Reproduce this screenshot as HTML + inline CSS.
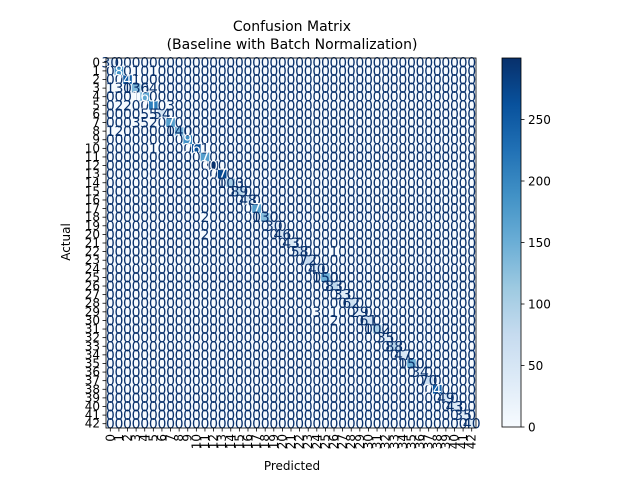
<!DOCTYPE html>
<html><head><meta charset="utf-8"><style>
body{margin:0;background:#fff;}
svg text{font-family:"DejaVu Sans","Liberation Sans",sans-serif;}
</style></head><body>
<svg id="chart" width="640" height="480" viewBox="0 0 640 480">
<rect width="640" height="480" fill="#fff"/>
<text x="292" y="31" font-size="14" text-anchor="middle">Confusion Matrix</text>
<text x="292" y="49" font-size="14" text-anchor="middle">(Baseline with Batch Normalization)</text>
<g id="cells"></g><g id="ticks"></g>
<text x="292" y="470" font-size="12" text-anchor="middle">Predicted</text>
<text x="70" y="242" font-size="12" text-anchor="middle" transform="rotate(-90 70 242)">Actual</text>
<defs><linearGradient id="cbg" x1="0" y1="1" x2="0" y2="0">
<stop offset="0" stop-color="#f7fbff"/><stop offset="0.125" stop-color="#deebf7"/><stop offset="0.25" stop-color="#c6dbef"/><stop offset="0.375" stop-color="#9ecae1"/><stop offset="0.5" stop-color="#6baed6"/><stop offset="0.625" stop-color="#4292c6"/><stop offset="0.75" stop-color="#2171b5"/><stop offset="0.875" stop-color="#08519c"/><stop offset="1" stop-color="#08306b"/></linearGradient></defs>
<g id="cbar"></g>
</svg>
<script>
const classes = Array.from({length:43},(_,i)=>String(i));
const diagonal = [30,183,248,136,161,210,54,171,140,190,265,170,300,270,103,89,48,170,130,30,46,43,58,72,40,150,83,33,62,29,61,102,35,88,47,150,34,70,249,49,43,35,40];
const offRows = [1,1,2,3,3,3,4,5,5,5,6,6,7,7,7,8,8,10,10,18,20,22,29,29,30];
const offCols = [3,5,3,0,1,5,3,1,2,7,4,5,3,4,5,0,1,5,11,11,11,26,24,26,26];
const offVals = [1,1,1,1,3,4,1,2,2,3,5,5,3,5,2,1,2,1,1,2,2,1,3,1,2];
const cbTicks = [0,50,100,150,200,250];
const vmax = 300;
const X0=106,Y0=58,S=370,n=classes.length,cw=S/n;
const stops=["#f7fbff","#deebf7","#c6dbef","#9ecae1","#6baed6","#4292c6","#2171b5","#08519c","#08306b"].map(h=>[1,3,5].map(i=>parseInt(h.substr(i,2),16)));
function cmap(v){let t=Math.max(0,Math.min(1,v/vmax))*8;let i=Math.min(7,Math.floor(t)),f=t-i;const a=stops[i],b=stops[i+1];return `rgb(${a.map((c,k)=>Math.round(c+(b[k]-c)*f)).join(',')})`;}
const xs=i=>X0+i*cw, ys=i=>Y0+i*cw;
const M=classes.map(()=>classes.map(()=>0));
diagonal.forEach((v,i)=>M[i][i]=v);
offRows.forEach((r,k)=>M[r][offCols[k]]=offVals[k]);
const NS="http://www.w3.org/2000/svg";
const cells=document.getElementById('cells');
for(let r=0;r<n;r++)for(let c=0;c<n;c++){
 const v=M[r][c];
 const rc=document.createElementNS(NS,'rect');
 rc.setAttribute('x',xs(c));rc.setAttribute('y',ys(r));rc.setAttribute('width',cw+0.3);rc.setAttribute('height',cw+0.3);rc.setAttribute('fill',cmap(v));
 
 
 cells.appendChild(rc);
}
for(let r=0;r<n;r++)for(let c=0;c<n;c++){
 const v=M[r][c];
 const t=document.createElementNS(NS,'text');
 t.setAttribute('x',xs(c)+cw/2);t.setAttribute('y',ys(r)+cw/2+5);t.setAttribute('font-size','14');t.setAttribute('text-anchor','middle');
 t.setAttribute('fill',v>vmax/2?'#fff':'#08306b');t.textContent=v;
 
 
 cells.appendChild(t);
}
const fr=document.createElementNS(NS,'rect');fr.setAttribute('x',X0);fr.setAttribute('y',Y0);fr.setAttribute('width',S);fr.setAttribute('height',S);fr.setAttribute('fill','none');fr.setAttribute('stroke','#000');fr.setAttribute('stroke-width','0.8');


cells.appendChild(fr);
const tk=document.getElementById('ticks');
classes.forEach((lab,i)=>{
 const cx=xs(i)+cw/2, cy=ys(i)+cw/2;
 let l=document.createElementNS(NS,'line');l.setAttribute('x1',cx);l.setAttribute('x2',cx);l.setAttribute('y1',Y0+S);l.setAttribute('y2',Y0+S+3.5);l.setAttribute('stroke','#000');l.setAttribute('stroke-width','0.8');tk.appendChild(l);
 l=document.createElementNS(NS,'line');l.setAttribute('x1',X0-3.5);l.setAttribute('x2',X0);l.setAttribute('y1',cy);l.setAttribute('y2',cy);l.setAttribute('stroke','#000');l.setAttribute('stroke-width','0.8');tk.appendChild(l);
 let t=document.createElementNS(NS,'text');t.setAttribute('x',cx+4);t.setAttribute('y',Y0+S+6);t.setAttribute('font-size','12');t.setAttribute('text-anchor','end');t.setAttribute('transform',`rotate(-90 ${cx+4} ${Y0+S+6})`);t.textContent=lab;
 
 
 tk.appendChild(t);
 t=document.createElementNS(NS,'text');t.setAttribute('x',X0-6);t.setAttribute('y',cy+4);t.setAttribute('font-size','12');t.setAttribute('text-anchor','end');t.textContent=lab;
 
 
 tk.appendChild(t);
});
const cb=document.getElementById('cbar');
const CX=502,CW=19,CT=58,CB=427;
const cr=document.createElementNS(NS,'rect');cr.setAttribute('x',CX);cr.setAttribute('y',CT);cr.setAttribute('width',CW);cr.setAttribute('height',CB-CT);cr.setAttribute('fill','url(#cbg)');cr.setAttribute('stroke','#000');cr.setAttribute('stroke-width','0.8');


cb.appendChild(cr);
cbTicks.forEach(v=>{
 const y=CB-(v/vmax)*(CB-CT);
 const l=document.createElementNS(NS,'line');l.setAttribute('x1',CX+CW);l.setAttribute('x2',CX+CW+3.5);l.setAttribute('y1',y);l.setAttribute('y2',y);l.setAttribute('stroke','#000');l.setAttribute('stroke-width','0.8');cb.appendChild(l);
 const t=document.createElementNS(NS,'text');t.setAttribute('x',CX+CW+7);t.setAttribute('y',y+4.5);t.setAttribute('font-size','12');t.textContent=v;
 
 
 cb.appendChild(t);
});
</script>
</body></html>
